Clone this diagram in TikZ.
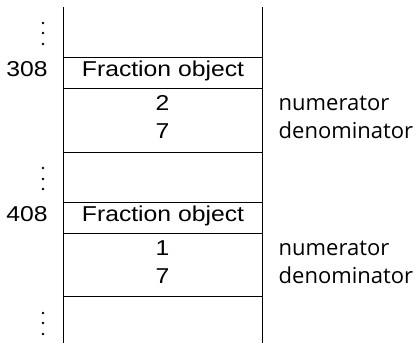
\documentclass[tikz,border=0pt]{standalone}
\usepackage{fontspec}
\newfontfamily\tabfont[FakeStretch=1.15]{Liberation Sans}
\newfontfamily\labfont{Open Sans}
\tikzset{
  cell/.style={anchor=base, inner sep=0pt, font=\tabfont\fontsize{21.5}{26}\selectfont},
  lab/.style={anchor=base west, inner sep=0pt, font=\labfont\fontsize{22}{26}\selectfont},
  rule/.style={line width=1pt, black},
  dot/.style={fill=black, draw=none}
}
\begin{document}
\begin{tikzpicture}[x=1pt, y=-1pt]
\useasboundingbox (0,0) rectangle (420,343);
% walls
\coordinate (tl) at (63,7);
\coordinate (bl) at (63,343);
\coordinate (tr) at (262,7);
\coordinate (br) at (262,343);
\draw[rule] (tl) -- (bl);
\draw[rule] (tr) -- (br);
% horizontal rules
\foreach \y in {57,88,152,202,233,296}{
  \draw[rule] (63,\y) -- (262,\y);
}
% dots
\foreach \y in {23,33,44,168,179,189,313,323,334}{
  \fill[dot] (43,\y) circle (1.3);
}
% first object
\node[cell] (a1) at (27,76.5) {308};
\node[cell] (f1) at (163,76.5) {Fraction object};
\node[cell] (n1) at (162.5,110) {2};
\node[cell] (d1) at (162.5,138) {7};
\node[lab] (ln1) at (278.5,110) {numerator};
\node[lab] (ld1) at (278.5,138) {denominator};
% second object
\node[cell] (a2) at (27,221.5) {408};
\node[cell] (f2) at (163,221.5) {Fraction object};
\node[cell] (n2) at (162.5,255) {1};
\node[cell] (d2) at (162.5,283) {7};
\node[lab] (ln2) at (278.5,255) {numerator};
\node[lab] (ld2) at (278.5,283) {denominator};
\end{tikzpicture}
\end{document}
